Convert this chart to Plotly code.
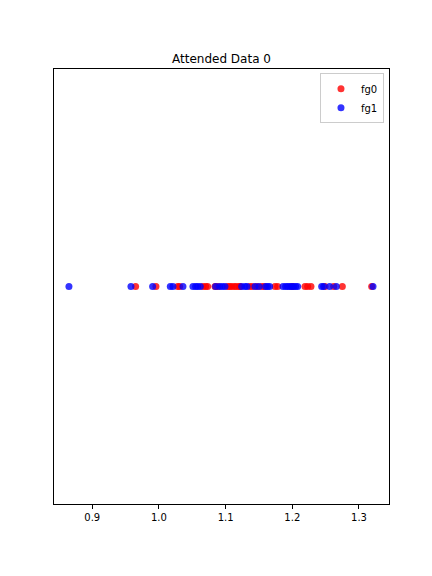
import plotly.graph_objects as go

fg0_x = [0.965, 0.9955, 1.028, 1.031, 1.066, 1.070, 1.073, 1.084, 1.106, 1.109, 1.113,
         1.116, 1.120, 1.136, 1.140, 1.147, 1.154, 1.158, 1.174, 1.178, 1.200,
         1.219, 1.223, 1.228, 1.249, 1.262, 1.275, 1.319, 1.122, 1.103, 1.088]
fg1_x = [0.865, 0.958, 0.9905, 1.017, 1.021, 1.036, 1.051, 1.055, 1.058, 1.062, 1.085,
         1.091, 1.099, 1.124, 1.129, 1.132, 1.144, 1.150, 1.163, 1.166, 1.186,
         1.190, 1.193, 1.196, 1.199, 1.202, 1.205, 1.208, 1.244, 1.247, 1.256,
         1.266, 1.321, 1.160, 1.095]
fg0_y = [0.0] * len(fg0_x)
fg1_y = [0.0] * len(fg1_x)

fig = go.Figure()
fig.add_trace(go.Scatter(x=fg0_x, y=fg0_y, mode="markers", name="fg0",
                         marker=dict(color="rgba(255,0,0,0.8)", size=7, line=dict(width=0))))
fig.add_trace(go.Scatter(x=fg1_x, y=fg1_y, mode="markers", name="fg1",
                         marker=dict(color="rgba(0,0,255,0.8)", size=7, line=dict(width=0))))

fig.update_layout(
    width=432, height=576,
    margin=dict(l=54, r=43, t=69, b=72),
    paper_bgcolor="white", plot_bgcolor="white",
    font=dict(family="DejaVu Sans", size=10, color="black"),
    title=dict(text="Attended Data 0", x=0.5, xref="paper", xanchor="center",
               y=1 - 59 / 576, yanchor="middle",
               font=dict(size=12, color="black")),
    showlegend=True,
    legend=dict(x=0.985, xanchor="right", y=0.99, yanchor="top",
                bordercolor="#cccccc", borderwidth=1, bgcolor="white",
                font=dict(size=10), itemwidth=30, tracegroupgap=0),
)
fig.update_xaxes(range=[0.8426, 1.345], tickvals=[0.9, 1.0, 1.1, 1.2, 1.3],
                 ticktext=["0.9", "1.0", "1.1", "1.2", "1.3"],
                 ticks="outside", ticklen=4, tickcolor="black", showgrid=False, zeroline=False,
                 showline=True, linecolor="black", linewidth=1, mirror=True)
fig.update_yaxes(range=[-0.06, 0.06], showticklabels=False, ticks="", showgrid=False,
                 zeroline=False, showline=True, linecolor="black", linewidth=1, mirror=True)

fig.write_html("out.html")
